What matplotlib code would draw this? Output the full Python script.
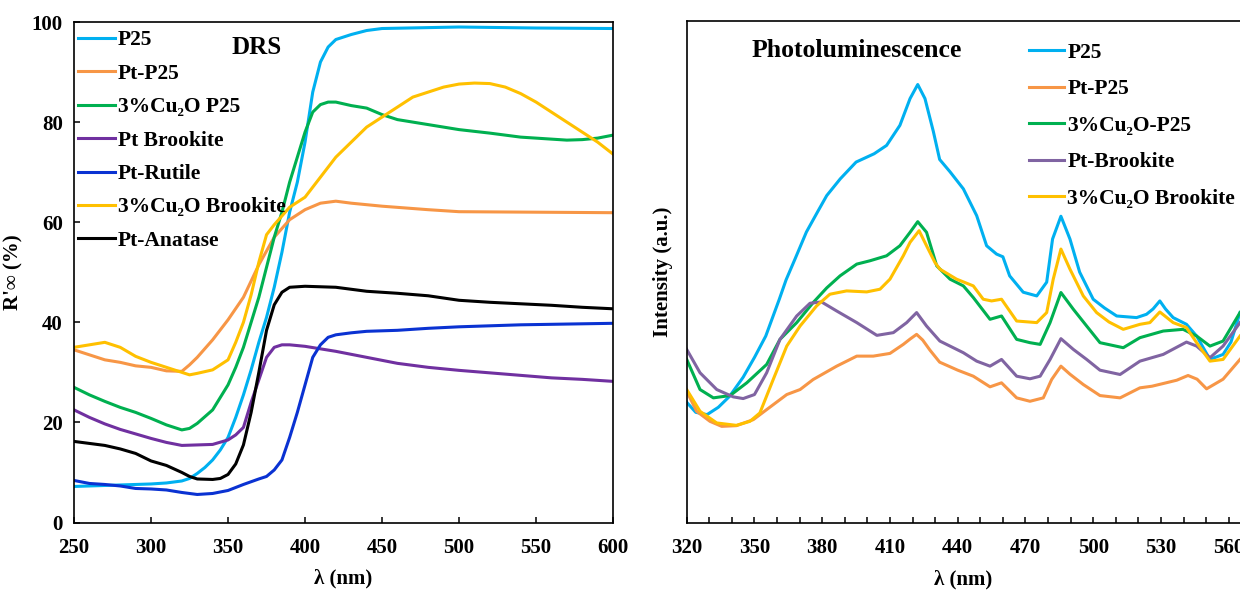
import numpy as np
import matplotlib
matplotlib.use("Agg")
import matplotlib.pyplot as plt

plt.rcParams['font.family'] = ['Liberation Serif', 'DejaVu Serif']
plt.rcParams['font.weight'] = 'bold'

# ---- DRS data (wavelength nm, R'inf %) ----
drs_labels = ['P25', 'Pt-P25', '3%Cu₂O P25', 'Pt Brookite', 'Pt-Rutile', '3%Cu₂O Brookite', 'Pt-Anatase']
drs_colors = ['#00B0F0', '#F79646', '#00B050', '#7030A0', '#0A32D2', '#FFC000', '#000000']

p25_wl = [250, 260, 270, 280, 290, 300, 310, 320, 325, 330, 335, 340, 345, 350, 355, 360, 365, 370, 375, 380,
          385, 390, 395, 400, 405, 410, 415, 420, 430, 440, 450, 500, 550, 600]
p25_r = [7.2, 7.3, 7.4, 7.5, 7.6, 7.7, 7.9, 8.3, 8.8, 9.8, 11, 12.5, 14.5, 17, 21, 25.5, 30.5, 36, 41, 47,
         54, 62, 68, 76, 86, 92, 95, 96.5, 97.5, 98.3, 98.7, 99, 98.8, 98.7]

ptp25_wl = [250, 260, 270, 280, 290, 300, 310, 320, 325, 330, 340, 350, 360, 370, 380, 390, 400, 410, 420, 430,
            450, 480, 500, 550, 600]
ptp25_r = [34.5, 33.5, 32.5, 32, 31.3, 31, 30.3, 30.2, 31.5, 33, 36.5, 40.5, 45, 51.5, 57, 60.5, 62.5, 63.8, 64.2, 63.8,
           63.2, 62.5, 62.1, 62, 61.9]

cup25_wl = [250, 260, 270, 280, 290, 300, 310, 320, 325, 330, 340, 345, 350, 355, 360, 365, 370, 375, 380, 385,
            390, 395, 400, 405, 410, 415, 420, 430, 440, 450, 460, 480, 500, 520, 540, 560, 570, 580, 590, 600]
cup25_r = [27, 25.5, 24.2, 23, 22, 20.8, 19.5, 18.5, 18.8, 19.8, 22.5, 25, 27.5, 31, 35, 40, 45, 51, 57, 62,
           68, 73, 78, 82, 83.5, 84, 84, 83.3, 82.8, 81.5, 80.5, 79.5, 78.5, 77.8, 77, 76.6, 76.4, 76.5, 76.8, 77.4]

ptbrk_wl = [250, 260, 270, 280, 290, 300, 310, 320, 330, 340, 350, 355, 360, 365, 370, 375, 380, 385, 390, 400,
            410, 420, 440, 460, 480, 500, 520, 540, 560, 580, 600]
ptbrk_r = [22.5, 21, 19.7, 18.6, 17.7, 16.8, 16, 15.4, 15.5, 15.6, 16.5, 17.5, 19, 24, 28.5, 33, 35, 35.5, 35.5, 35.2,
           34.7, 34.2, 33, 31.8, 31, 30.4, 29.9, 29.4, 28.9, 28.6, 28.2]

ptrut_wl = [250, 260, 270, 280, 290, 300, 310, 320, 330, 340, 350, 360, 370, 375, 380, 385, 390, 395, 400, 405,
            410, 415, 420, 430, 440, 460, 480, 500, 520, 540, 560, 580, 600]
ptrut_r = [8.4, 7.8, 7.6, 7.3, 6.8, 6.7, 6.5, 6, 5.6, 5.8, 6.4, 7.6, 8.7, 9.2, 10.5, 12.5, 17, 22, 27.5, 33,
           35.5, 37, 37.5, 37.9, 38.2, 38.4, 38.8, 39.1, 39.3, 39.5, 39.6, 39.7, 39.8]

cubrk_wl = [250, 260, 270, 280, 290, 300, 310, 320, 325, 330, 340, 350, 355, 360, 365, 370, 375, 380, 390, 400,
            410, 420, 430, 440, 450, 460, 470, 480, 490, 500, 510, 520, 530, 540, 550, 560, 570, 580, 590, 600]
cubrk_r = [35, 35.5, 36, 35, 33.2, 32, 31, 30, 29.5, 29.8, 30.5, 32.5, 36, 40, 45.5, 52, 57.5, 59.5, 63, 65,
           69, 73, 76, 79, 81, 83, 85, 86, 87, 87.6, 87.8, 87.7, 87, 85.7, 84, 82, 80, 78, 76, 73.6]

ptana_wl = [250, 260, 270, 280, 290, 300, 310, 320, 325, 330, 340, 345, 350, 355, 360, 365, 370, 375, 380, 385,
            390, 400, 420, 440, 460, 480, 500, 520, 540, 560, 580, 600]
ptana_r = [16.2, 15.8, 15.4, 14.7, 13.8, 12.3, 11.4, 10, 9.2, 8.7, 8.6, 8.8, 9.6, 11.7, 15.5, 22, 30, 38.4, 43.5, 46,
           47, 47.2, 47, 46.2, 45.8, 45.3, 44.4, 44, 43.7, 43.4, 43, 42.7]

drs_series = [(p25_wl, p25_r), (ptp25_wl, ptp25_r), (cup25_wl, cup25_r), (ptbrk_wl, ptbrk_r),
              (ptrut_wl, ptrut_r), (cubrk_wl, cubrk_r), (ptana_wl, ptana_r)]

# ---- Photoluminescence data (wavelength nm, intensity a.u.) ----
pl_labels = ['P25', 'Pt-P25', '3%Cu₂O-P25', 'Pt-Brookite', '3%Cu₂O Brookite']
pl_colors = ['#00B0F0', '#F79646', '#00B050', '#8064A2', '#FFC000']

pl_p25_wl = [320, 324, 329, 334, 339, 345, 350, 355, 361, 364, 368, 373, 378, 382, 388, 395, 403, 408.5, 414.4, 418.9,
             422.3, 425.5, 429.2, 432, 436.6, 442.5, 448.4, 452.8, 457.2, 460, 463, 469, 475, 479.4, 482, 485.7,
             489.7, 494, 500, 505, 510.4, 519.2, 523.6, 526.5, 529.5, 532, 535.4, 541.3, 545.8, 551.7, 557.5, 561, 565]
pl_p25_i = [120, 110, 107.7, 115, 126, 145, 164.7, 186, 222.7, 242, 263, 289.7, 310, 326, 342.7, 359.4, 367.7, 376, 396, 422.7,
            436.7, 422.7, 390, 362, 349.7, 332.7, 306, 276, 267.7, 265, 246, 229.7, 226, 239.7, 282.7, 305.4,
            282.7, 249.7, 222.7, 214, 206, 204.4, 207.7, 213, 221, 213, 204.4, 197.7, 186, 162.7, 167.7, 180, 209.4]

pl_ptp25_wl = [320, 324.4, 330.3, 335.5, 342, 349.5, 355.4, 364.3, 370.2, 376, 386.4, 395.3, 402.6, 410, 415.9, 418.9,
               421.8, 424.5, 427.7, 432, 440, 446.9, 454.3, 459.4, 466.1, 472, 477.9, 481.6, 485.7, 489.7, 495.6,
               503, 511.9, 520.7, 526, 531, 537, 542, 546, 550.2, 557.5, 565]
pl_ptp25_i = [131, 111, 101, 96, 96.7, 102.7, 112.7, 127.7, 132.7, 142.7, 156, 166, 166, 168.7, 177.7, 183,
              187.7, 182, 172, 160, 152, 146, 135.4, 139.4, 124.4, 121, 124.4, 142.7, 156, 148, 137.7,
              126.7, 124.4, 134.4, 136, 138.7, 142, 146.7, 143, 133.4, 143, 162.7]

pl_cup25_wl = [320, 325.9, 331.8, 339.2, 346.6, 355.4, 361.3, 368.7, 376, 382, 387.9, 395.3, 401.1, 408.5, 414.4, 418.9,
               422.3, 426.2, 430.7, 436.6, 442.5, 446.9, 454.3, 459.4, 466.1, 472, 476.5, 480.9, 485.7, 491.2, 497.1,
               503, 513.3, 520.7, 531, 539.8, 545.8, 551.7, 557.5, 565]
pl_cup25_i = [162.7, 132.7, 124.4, 126.7, 139.4, 157.7, 182.7, 199.4, 219.4, 234, 246, 257.7, 261, 266, 276, 289.4,
              300, 289.4, 256, 242.7, 236, 224.4, 202.7, 206, 182.7, 179.4, 177.7, 199.4, 229.4, 212.7, 196,
              179.4, 174.4, 184.4, 191, 192.7, 186, 176, 181, 209.4]

pl_ptbrk_wl = [320, 325.9, 333.3, 340.6, 345, 350, 355.4, 361.3, 368.7, 374.6, 379.7, 386.4, 395.3, 404.2, 411.5, 417.4,
               421.8, 426.2, 432.1, 442.5, 448.4, 454.3, 459.4, 466.1, 472, 476.5, 480.9, 485.7, 491.2, 497.1, 503,
               511.9, 520.7, 531, 541.3, 545.8, 551.7, 557.5, 565]
pl_ptbrk_i = [172.7, 149.4, 132.7, 125.4, 123.7, 127.7, 149.4, 182.7, 206, 218.7, 220, 211, 199.4, 186.7, 189.4, 199.4,
              209.4, 196, 181, 169.4, 161, 156, 162.7, 146, 143.4, 146, 162.7, 183.4, 172.7, 162.7, 152,
              147.7, 161, 167.7, 180, 176, 164.4, 176, 199.4]

pl_cubrk_wl = [320, 325.9, 333.3, 342, 348, 352.4, 358.3, 364.3, 370.2, 377.5, 383.4, 390.8, 399.7, 405.6, 410, 415.9,
               418.9, 422.9, 426.2, 429.9, 432.1, 439.5, 446.9, 451.3, 455, 459.4, 466.1, 475, 479.4, 482.3, 485.7,
               489.7, 495.6, 501.5, 507, 513.3, 520.7, 525.1, 529.5, 535.4, 541.3, 545.8, 551.7, 557.5, 565]
pl_cubrk_i = [132.7, 111, 99.4, 97, 101, 109.4, 142.7, 176, 196, 216, 227.7, 231, 230, 232.7, 242.7, 266,
              279.4, 291, 276, 259.4, 252.7, 242.7, 236, 222.7, 221, 222.7, 201, 199.4, 209.4, 242.7, 272.7,
              252.7, 226, 209.4, 200, 192.7, 197.7, 199.4, 210, 199.4, 194.4, 179.4, 161, 162.7, 186]

pl_series = [(pl_p25_wl, pl_p25_i), (pl_ptp25_wl, pl_ptp25_i), (pl_cup25_wl, pl_cup25_i),
             (pl_ptbrk_wl, pl_ptbrk_i), (pl_cubrk_wl, pl_cubrk_i)]

fig = plt.figure(figsize=(12.4, 5.9), dpi=100)
ax1 = fig.add_axes([0.0597, 0.1144, 0.4347, 0.8483])
ax2 = fig.add_axes([0.5538, 0.1141, 0.4462, 0.8503])

lw = 2.2
# Left panel: DRS
for (x, y), lab, col in zip(drs_series, drs_labels, drs_colors):
    ax1.plot(x, y, color=col, lw=lw, label=lab, solid_joinstyle='round')
ax1.set_xlim(250, 600)
ax1.set_ylim(0, 100)
ax1.set_xticks(range(250, 601, 50))
ax1.set_yticks(range(0, 101, 20))
ax1.tick_params(direction='in', length=4.5, width=1.1, labelsize=15)
ax1.tick_params(axis='x', pad=11)
ax1.tick_params(axis='y', pad=8)
for s in ax1.spines.values():
    s.set_linewidth(1.2)
ax1.set_xlabel('λ (nm)', fontsize=15, fontweight='bold', labelpad=8)
ax1.set_ylabel("R'∞ (%)", fontsize=15, fontweight='bold', labelpad=6)
ax1.text(0.338, 0.95, 'DRS', transform=ax1.transAxes, ha='center', va='center',
         fontsize=18, fontweight='bold')
ax1.legend(loc='upper left', bbox_to_anchor=(0.0, 0.992), frameon=False,
           handlelength=1.7, handletextpad=0.15, labelspacing=0.62, borderaxespad=0.1, borderpad=0.1,
           prop={'weight': 'bold', 'size': 15.5})

# Right panel: Photoluminescence
for (x, y), lab, col in zip(pl_series, pl_labels, pl_colors):
    ax2.plot(x, y, color=col, lw=lw, label=lab, solid_joinstyle='round')
ax2.set_xlim(320, 565)
ax2.set_ylim(0, 500)
ax2.set_xticks(range(320, 561, 30))
ax2.set_xticks(range(320, 566, 10), minor=True)
ax2.set_yticks([])
ax2.tick_params(axis='x', which='both', direction='in', length=4.5, width=1.1, labelsize=15, pad=11)
ax2.spines['right'].set_visible(False)
for s in ['left', 'top', 'bottom']:
    ax2.spines[s].set_linewidth(1.2)
ax2.set_xlabel('λ (nm)', fontsize=15, fontweight='bold', labelpad=8)
ax2.set_ylabel('Intensity (a.u.)', fontsize=15, fontweight='bold', labelpad=10)
ax2.text(0.308, 0.942, 'Photoluminescence', transform=ax2.transAxes, ha='center', va='center',
         fontsize=18.5, fontweight='bold')
ax2.legend(loc='upper left', bbox_to_anchor=(0.61, 0.965), frameon=False,
           handlelength=1.65, handletextpad=0.15, labelspacing=0.76, borderaxespad=0.1, borderpad=0.1,
           prop={'weight': 'bold', 'size': 15.5})

fig.savefig('out.png', dpi=100)
